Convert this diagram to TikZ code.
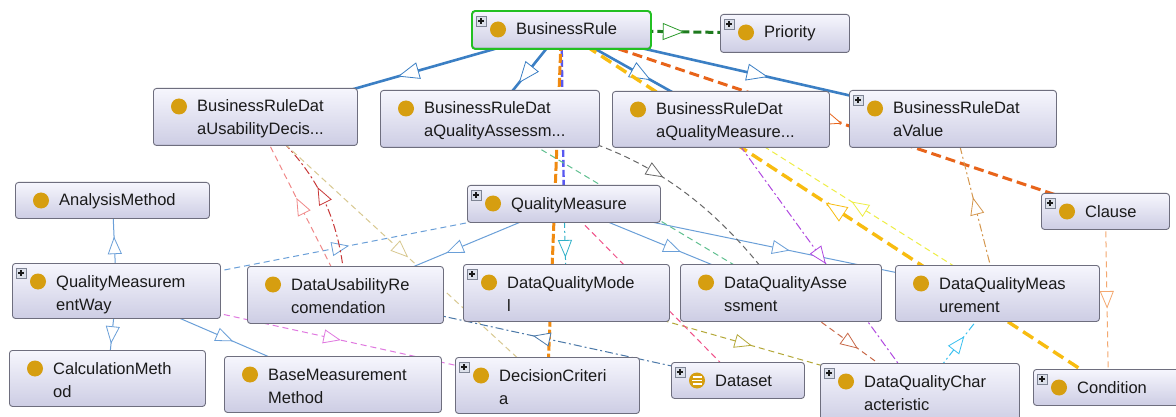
\documentclass[tikz,border=0pt]{standalone}
\usepackage{fontspec}
\setmainfont{Liberation Sans}
\usetikzlibrary{decorations.markings,calc}
\pgfdeclarelayer{background}
\pgfsetlayers{background,main}
\definecolor{nodeb}{HTML}{6E6E7E}
\definecolor{nodet}{HTML}{F6F6FD}
\definecolor{nodebt}{HTML}{CDCDE4}
\definecolor{dotc}{HTML}{D69E10}
\definecolor{txtc}{HTML}{1A1A1A}
\definecolor{plusb}{HTML}{7E8494}
\definecolor{plusf}{HTML}{DCE0EA}
\definecolor{selg}{HTML}{22C022}
\definecolor{subk}{HTML}{3B7FC4}
\definecolor{subb}{HTML}{6A9FD8}
\definecolor{cgreen}{HTML}{1E7A1E}
\definecolor{cgreenl}{HTML}{2A9A2A}
\definecolor{cblue}{HTML}{5858F0}
\definecolor{corange}{HTML}{F08A10}
\definecolor{cored}{HTML}{E8641A}
\definecolor{cyel}{HTML}{F8BC10}
\definecolor{cyell}{HTML}{EEEE44}
\definecolor{cpurp}{HTML}{B048E0}
\definecolor{ctan}{HTML}{D4964C}
\definecolor{cpeach}{HTML}{F4A870}
\definecolor{ccyan}{HTML}{38C0F0}
\definecolor{crust}{HTML}{C86848}
\definecolor{colive}{HTML}{B4A838}
\definecolor{cmint}{HTML}{60C090}
\definecolor{cgrey}{HTML}{686868}
\definecolor{cteal}{HTML}{30B0C8}
\definecolor{cpink}{HTML}{F05088}
\definecolor{csteel}{HTML}{4A78A8}
\definecolor{cmag}{HTML}{E078E0}
\definecolor{clred}{HTML}{F08888}
\definecolor{cdred}{HTML}{C83838}
\definecolor{cltan}{HTML}{D8C890}
\tikzset{
  cls/.style={draw=nodeb, line width=0.9pt, rounded corners=3pt, top color=nodet, bottom color=nodebt, inner sep=0pt},
  txt/.style={anchor=base west, inner sep=0pt, font=\fontsize{16.5}{20}\selectfont, text=txtc},
  midarr/.style={postaction={decorate,decoration={markings,mark=at position 0.5 with {\draw[solid,line width=0.8pt,fill=white,draw=#1] (8,0) -- (-8,6.5) -- (-8,-6.5) -- cycle;}}}},
  bigarr/.style={postaction={decorate,decoration={markings,mark=at position 0.5 with {\draw[solid,line width=0.8pt,fill=white,draw=#1] (10,0) -- (-10,8) -- (-10,-8) -- cycle;}}}},
  subthin/.style={draw=subb, line width=1pt, midarr=subb},
  subthick/.style={draw=subk, line width=2.6pt, bigarr=subk},
  dsh/.style={dash pattern=on 6pt off 4pt},
  ddot/.style={dash pattern=on 8pt off 3pt on 2pt off 3pt},
  thin/.style={line width=1pt},
}
\newcommand\plusic[2]{%
  \draw[draw=plusb, fill=plusf, line width=0.6pt] (#1+4,#2+5) rectangle (#1+14,#2+15);
  \draw[line width=1.2pt, txtc] (#1+6.2,#2+10) -- (#1+11.8,#2+10) (#1+9,#2+7.2) -- (#1+9,#2+12.8);}
% name, x, y, w, h, line1, line2, icon (0 none, 1 plus, 2 plus + dataset)
\newcommand\onto[8]{%
  \node[cls, minimum width=#4pt, minimum height=#5pt, anchor=north west] (#1) at (#2,#3) {};
  \fill[dotc] (#2+26,#3+18.5) circle (8pt);
  \ifnum#8=2
    \draw[white, line width=1.3pt] (#2+21.5,#3+15) -- (#2+30.5,#3+15) (#2+21,#3+18.5) -- (#2+31,#3+18.5) (#2+21.5,#3+22) -- (#2+30.5,#3+22);
  \fi
  \node[txt] (#1-a) at (#2+44,#3+24) {#6};
  \if\relax\detokenize{#7}\relax\else
    \node[txt] (#1-b) at (#2+44,#3+47) {#7};
  \fi
  \ifnum#8>0 \plusic{#2}{#3}\fi
}
\begin{document}
\begin{tikzpicture}[x=1pt,y=-1pt]
\useasboundingbox (0,0) rectangle (1176,417);
\clip (0,0) rectangle (1176,417);
% nodes
\onto{br}{472}{11}{178}{37}{BusinessRule}{}{1}
\draw[selg, line width=1.8pt, rounded corners=3pt] (br.north west) rectangle (br.south east);
\onto{pri}{720}{14}{129}{38}{Priority}{}{1}
\onto{brdud}{153}{88}{204}{57}{BusinessRuleDat}{aUsabilityDecis...}{0}
\onto{brdqa}{380}{90}{219}{57}{BusinessRuleDat}{aQualityAssessm...}{0}
\onto{brdqm}{612}{91}{217}{56}{BusinessRuleDat}{aQualityMeasure...}{0}
\onto{brdv}{849}{90}{207}{57}{BusinessRuleDat}{aValue}{1}
\onto{am}{15}{182}{194}{36}{AnalysisMethod}{}{0}
\onto{qm}{467}{185}{193}{37}{QualityMeasure}{}{1}
\onto{clause}{1041}{193}{128}{36}{Clause}{}{1}
\onto{qmw}{12}{263}{208}{55}{QualityMeasurem}{entWay}{1}
\onto{dur}{247}{266}{196}{57}{DataUsabilityRe}{comendation}{0}
\onto{dqmod}{463}{264}{206}{57}{DataQualityMode}{l}{1}
\onto{dqa}{680}{264}{201}{57}{DataQualityAsse}{ssment}{0}
\onto{dqmeas}{895}{265}{204}{56}{DataQualityMeas}{urement}{0}
\onto{cm}{9}{350}{196}{56}{CalculationMeth}{od}{0}
\onto{bmm}{224}{356}{217}{56}{BaseMeasurement}{Method}{0}
\onto{dc}{455}{357}{184}{56}{DecisionCriteri}{a}{1}
\onto{dataset}{671}{362}{133}{36}{Dataset}{}{2}
\onto{dqchar}{820}{363}{199}{60}{DataQualityChar}{acteristic}{1}
\onto{cond}{1033}{369}{150}{36}{Condition}{}{1}
% edges
\begin{pgfonlayer}{background}
\fill[white] (0,0) rectangle (1176,417);
\draw[subthick] (br.center) -- (brdud.center);
\draw[subthick] (br.center) -- (brdqa.center);
\draw[subthick] (br.center) -- (brdqm.center);
\draw[subthick] (br.center) -- (brdv.center);
\draw[subthin] (qmw.center) -- (am.center);
\draw[subthin] (qmw.center) -- (cm.center);
\draw[subthin] (qmw.center) -- (bmm.center);
\draw[subthin] (qm.center) -- (dur.center);
\draw[subthin] (qm.center) -- (dqa.center);
\draw[subthin] (qm.center) -- (dqmeas.center);
\draw[draw=cgreen, line width=3pt, dash pattern=on 8pt off 4pt, bigarr=cgreenl] (br.center) -- (pri.center);
\draw[draw=cblue, line width=2.4pt, dash pattern=on 7pt off 3pt] (br.center) -- (qm.center);
\draw[draw=corange, line width=3pt, dash pattern=on 9pt off 3pt] (br.center) -- (dc.center);
\draw[draw=cored, line width=3pt, dash pattern=on 10pt off 5pt, midarr=cored] (br.center) -- (clause.center);
\draw[draw=cyel, line width=3.4pt, dash pattern=on 12pt off 6pt, bigarr=cyel] (cond.center) -- (br.center);
\draw[draw=cyell, thin, dsh, midarr=cyell] (dqmeas.center) -- (brdqm.center);
\draw[draw=cpurp, thin, ddot, midarr=cpurp] (brdqm.center) -- (dqchar.center);
\draw[draw=ctan, thin, ddot, midarr=ctan] (dqmeas.center) -- (brdv.center);
\draw[draw=cpeach, thin, dsh, midarr=cpeach] (clause.center) -- (cond.center);
\draw[draw=ccyan, thin, ddot, midarr=ccyan] (dqchar.center) -- (dqmeas.center);
\draw[draw=crust, thin, dsh, midarr=crust] (dqa.center) -- (dqchar.center);
\draw[draw=colive, thin, dsh, midarr=colive] (dqmod.center) -- (dqchar.center);
\draw[draw=cmint, thin, dsh, midarr=cmint] (brdqa.center) -- (dqa.center);
\draw[draw=cgrey, thin, dsh, midarr=cgrey] (brdqa.center) to[bend left=23] (dqa.center);
\draw[draw=cteal, thin, ddot, midarr=cteal] (qm.center) -- (dqmod.center);
\draw[draw=cpink, thin, dsh, midarr=cpink] (qm.center) -- (dataset.center);
\draw[draw=csteel, thin, ddot, midarr=csteel] (dataset.center) -- (dur.center);
\draw[draw=cmag, thin, dsh, midarr=cmag] (qmw.center) -- (dc.center);
\draw[draw=subb, thin, dsh, midarr=subb] (qmw.center) -- (qm.center);
\draw[draw=clred, thin, dsh, midarr=clred] (dur.center) -- (brdud.center);
\draw[draw=cdred, thin, ddot, midarr=cdred] (dur.center) to[bend right=24] (brdud.center);
\draw[draw=cltan, thin, dsh, midarr=cltan] (brdud.center) -- (dc.center);
\end{pgfonlayer}
\end{tikzpicture}
\end{document}
